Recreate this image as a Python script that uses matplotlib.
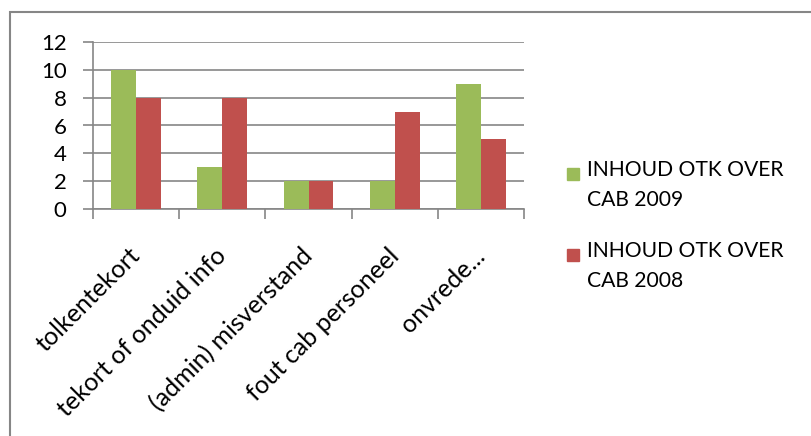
import matplotlib
matplotlib.use("Agg")
import matplotlib.pyplot as plt
import numpy as np
from matplotlib.patches import Rectangle

categories = ["tolkentekort", "tekort of onduid info", "(admin) misverstand", "fout cab personeel", "onvrede..."]
series_names = ["INHOUD OTK OVER\nCAB 2009", "INHOUD OTK OVER\nCAB 2008"]
values_2009 = [10, 3, 2, 2, 9]
values_2008 = [8, 8, 2, 7, 5]
colors = ["#9BBB59", "#C0504D"]

plt.rcParams["font.family"] = ["Lato", "DejaVu Sans"]

W, H = 811, 436
fig = plt.figure(figsize=(W / 100, H / 100), dpi=100)
fig.patches.append(Rectangle((10 / W, -0.1), 1.2, 1 - 12 / H + 0.1, transform=fig.transFigure,
                             fill=False, edgecolor="#868686", linewidth=1.5))

ax = fig.add_axes([93 / W, 1 - 209 / H, (524 - 93) / W, (209 - 42) / H])
x = np.arange(len(categories))
bw = 0.29
ax.bar(x - bw / 2, values_2009, bw, color=colors[0], label=series_names[0], zorder=3)
ax.bar(x + bw / 2, values_2008, bw, color=colors[1], label=series_names[1], zorder=3)

ax.set_xlim(-0.5, len(categories) - 0.5)
ax.set_ylim(0, 12)
ax.set_yticks(range(0, 13, 2))
ax.yaxis.grid(True, color="#868686", linewidth=1.2, zorder=0)
for s in ["top", "right"]:
    ax.spines[s].set_visible(False)
ax.spines["left"].set_color("#868686")
ax.spines["bottom"].set_color("#868686")
ax.spines["left"].set_linewidth(1.2)
ax.spines["bottom"].set_linewidth(1.2)
ax.tick_params(axis="y", length=7, color="#868686", width=1.2, labelsize=16, pad=12)
ax.set_xticks(np.arange(-0.5, len(categories), 1.0))
ax.set_xticklabels([])
ax.tick_params(axis="x", length=7, color="#868686", width=1.2)

for xi, lab in zip(x, categories):
    ax.annotate(lab, xy=(xi, 0), xycoords=("data", "axes fraction"), xytext=(-5.5, -25),
                textcoords="offset points", rotation=45, ha="right", va="top",
                rotation_mode="anchor", fontsize=18)

# legend (manual, marker aligned with first text line as in the reference)
leg_x_px, text_x_px = 567, 587
entry_top_px = [174, 255]
for name, col, yc in zip(series_names, colors, entry_top_px):
    fig.patches.append(Rectangle((leg_x_px / W, 1 - (yc + 6) / H), 12 / W, 12 / H,
                                 transform=fig.transFigure, color=col))
    fig.text(text_x_px / W, 1 - (yc - 14) / H, name, fontsize=15.2, ha="left", va="top",
             linespacing=1.6)

fig.savefig("out.png", dpi=100)
